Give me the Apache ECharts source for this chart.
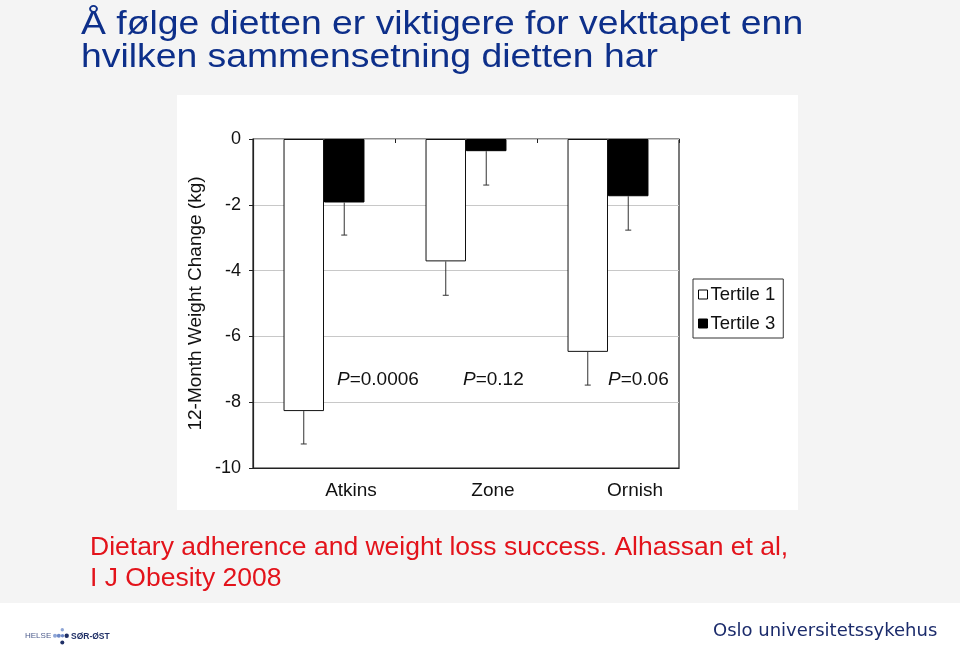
<!DOCTYPE html>
<html>
<head>
<meta charset="utf-8">
<script src="https://cdn.jsdelivr.net/npm/echarts@6/dist/echarts.min.js"></script>
<style>
html,body{margin:0;padding:0;background:#f4f4f4;}
#chart{width:960px;height:646px;}
</style>
</head>
<body>
<div id="chart"></div>
<script>
var categories = ['Atkins', 'Zone', 'Ornish'];
var tertile1 = [-8.27, -3.72, -6.47];
var tertile3 = [-1.93, -0.37, -1.74];
var err1 = [1.0, 1.03, 1.01];
var err3 = [0.99, 1.03, 1.03];
var pValues = ['0.0006', '0.12', '0.06'];
var yTicks = [0, -2, -4, -6, -8, -10];

var FONT = '"Liberation Sans", Arial, Helvetica, sans-serif';
var chart = echarts.init(document.getElementById('chart'));

var GAP = 0.43; // barCategoryGap fraction

function errSeries(values, errs, sign, name) {
  return {
    type: 'custom',
    name: name,
    z: 5,
    silent: true,
    data: values.map(function (v, i) { return [i, v, v - errs[i]]; }),
    renderItem: function (params, api) {
      var band = api.size([1, 0])[0];
      var bw = band * (1 - GAP) / 2;
      var off = sign * bw / 2;
      var p1 = api.coord([api.value(0), api.value(1)]);
      var p2 = api.coord([api.value(0), api.value(2)]);
      var x = p1[0] + off;
      var cap = 3;
      var st = { stroke: '#333', lineWidth: 1 };
      return {
        type: 'group',
        children: [
          { type: 'line', shape: { x1: x, y1: p1[1], x2: x, y2: p2[1] }, style: st },
          { type: 'line', shape: { x1: x - cap, y1: p2[1], x2: x + cap, y2: p2[1] }, style: st }
        ]
      };
    }
  };
}

var pTexts = [
  { left: 337, text: pValues[0] },
  { left: 463, text: pValues[1] },
  { left: 608, text: pValues[2] }
].map(function (d) {
  return {
    type: 'text', left: d.left, top: 370, z: 10,
    style: {
      text: '{i|P}{n|=' + d.text + '}',
      rich: {
        i: { fontStyle: 'italic', fontSize: 19, fontFamily: FONT, fill: '#111' },
        n: { fontSize: 19, fontFamily: FONT, fill: '#111' }
      }
    }
  };
});

var option = {
  backgroundColor: '#f4f4f4',
  animation: false,
  graphic: [
    { type: 'rect', left: 177, top: 95, z: -10, shape: { width: 621, height: 415 }, style: { fill: '#ffffff' } },
    { type: 'rect', left: 0, top: 603, z: -10, shape: { width: 960, height: 43 }, style: { fill: '#ffffff' } },
    {
      type: 'text', x: 81, y: 8, scaleX: 1.098, z: 10,
      style: {
        text: 'Å følge dietten er viktigere for vekttapet enn\nhvilken sammensetning dietten har',
        fontFamily: FONT, fontSize: 34, lineHeight: 33, fill: '#0d2f8a', verticalAlign: 'top'
      }
    },
    {
      type: 'text', x: 90, y: 533, scaleX: 1.06, z: 10,
      style: {
        text: 'Dietary adherence and weight loss success. Alhassan et al,\nI J Obesity 2008',
        fontFamily: FONT, fontSize: 25, lineHeight: 31, fill: '#e3131b', verticalAlign: 'top'
      }
    },
    {
      type: 'text', left: 713, top: 622, z: 10,
      style: { text: 'Oslo universitetssykehus', fontFamily: '"DejaVu Sans", Verdana, sans-serif', fontSize: 18, fill: '#1b2b6b' }
    },
    { type: 'text', left: 25, top: 632, style: { text: 'HELSE', fontFamily: FONT, fontSize: 8, fill: '#4d5c8c' } },
    { type: 'text', left: 71, top: 632, style: { text: 'SØR-ØST', fontFamily: FONT, fontSize: 8.5, fontWeight: 'bold', fill: '#1f2f66' } },
    { type: 'circle', shape: { cx: 62.3, cy: 629.7, r: 1.7 }, style: { fill: '#8fa6d6' } },
    { type: 'circle', shape: { cx: 55, cy: 635.8, r: 2 }, style: { fill: '#8fa6d6' } },
    { type: 'circle', shape: { cx: 58.8, cy: 635.8, r: 2 }, style: { fill: '#6e89c8' } },
    { type: 'circle', shape: { cx: 62.5, cy: 635.8, r: 1.7 }, style: { fill: '#6e89c8' } },
    { type: 'circle', shape: { cx: 66.7, cy: 635.8, r: 2.2 }, style: { fill: '#1f2f66' } },
    { type: 'circle', shape: { cx: 62.3, cy: 642.5, r: 2 }, style: { fill: '#1f2f66' } }
  ].concat(pTexts),
  legend: {
    orient: 'vertical',
    left: 693, top: 279,
    borderColor: '#333', borderWidth: 1,
    padding: [6, 8, 5, 5],
    itemWidth: 9, itemHeight: 9, itemGap: 10,
    icon: 'rect',
    textStyle: { fontFamily: FONT, fontSize: 18.5, color: '#111', lineHeight: 18, padding: [0, 0, 0, -2] },
    data: [
      { name: 'Tertile 1', itemStyle: { color: '#fff', borderColor: '#000', borderWidth: 1 } },
      { name: 'Tertile 3', itemStyle: { color: '#000', borderColor: '#000', borderWidth: 1 } }
    ]
  },
  grid: {
    left: 253, top: 139, width: 426, height: 329,
    show: true, borderColor: '#222', borderWidth: 1.2, backgroundColor: 'transparent'
  },
  xAxis: [
    {
      type: 'category', data: categories, position: 'bottom',
      axisLine: { show: true, onZero: false, lineStyle: { color: '#222', width: 1.2 } },
      axisTick: { show: false },
      axisLabel: { fontFamily: FONT, fontSize: 19, color: '#111', margin: 13, padding: [0, 0, 0, 54] }
    },
    {
      type: 'category', data: categories, position: 'top',
      axisLine: { show: false },
      axisTick: { show: true, inside: true, length: 4, lineStyle: { color: '#222' } },
      axisLabel: { show: false }
    }
  ],
  yAxis: {
    type: 'value', min: -10, max: 0, interval: 2,
    name: '12-Month Weight Change (kg)',
    nameLocation: 'middle', nameGap: 48,
    nameTextStyle: { fontFamily: FONT, fontSize: 19, color: '#111' },
    axisLine: { show: true, lineStyle: { color: '#222', width: 1.2 } },
    axisTick: { show: true, length: 4, lineStyle: { color: '#222' } },
    axisLabel: {
      fontFamily: FONT, fontSize: 18, color: '#111', margin: 12,
      formatter: function (v) { return yTicks.indexOf(v) >= 0 ? String(v) : ''; }
    },
    splitLine: { show: true, lineStyle: { color: '#c8c8c8', width: 1 } }
  },
  series: [
    {
      name: 'Tertile 1', type: 'bar', data: tertile1,
      barCategoryGap: (GAP * 100) + '%', barGap: '0%',
      itemStyle: { color: '#fff', borderColor: '#111', borderWidth: 1 }
    },
    {
      name: 'Tertile 3', type: 'bar', data: tertile3,
      barCategoryGap: (GAP * 100) + '%', barGap: '0%',
      itemStyle: { color: '#000', borderColor: '#000', borderWidth: 1 }
    },
    errSeries(tertile1, err1, -1, 'err1'),
    errSeries(tertile3, err3, 1, 'err3')
  ]
};
chart.setOption(option);
</script>
</body>
</html>
